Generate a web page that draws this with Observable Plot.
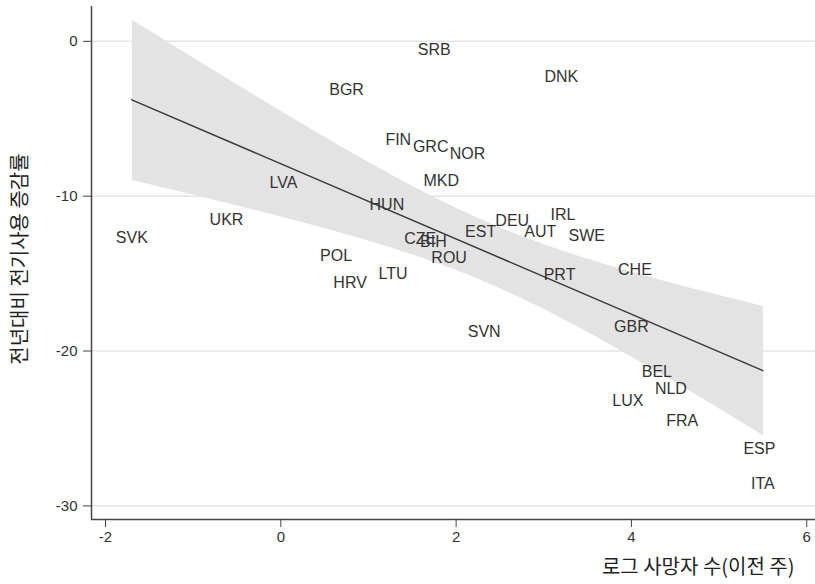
<!DOCTYPE html>
<html>
<head>
<meta charset="utf-8">
<script src="https://cdn.jsdelivr.net/npm/d3@7"></script>
<script src="https://cdn.jsdelivr.net/npm/@observablehq/plot@0.6"></script>
<style>
  html, body { margin: 0; padding: 0; background: #fff; }
  #chart svg { display: block; }
</style>
</head>
<body>
<div id="chart"></div>
<script>
// Country labels and their positions (log deaths previous week, % change in electricity use)
const countries = ["SVK","UKR","LVA","BGR","SRB","DNK","FIN","GRC","NOR","MKD","HUN","CZE","BIH","ROU","POL","HRV","LTU","EST","DEU","AUT","IRL","SWE","PRT","CHE","SVN","GBR","BEL","NLD","LUX","FRA","ESP","ITA"];
const logDeaths = [-1.70,-0.62,0.03,0.75,1.75,3.20,1.34,1.71,2.13,1.83,1.21,1.59,1.74,1.92,0.63,0.79,1.28,2.28,2.64,2.96,3.22,3.49,3.18,4.04,2.32,4.00,4.29,4.45,3.96,4.58,5.46,5.50];
const elecChange = [-12.71,-11.55,-9.16,-3.15,-0.56,-2.31,-6.38,-6.83,-7.28,-9.03,-10.58,-12.75,-12.95,-14.0,-13.87,-15.62,-15.04,-12.33,-11.62,-12.33,-11.23,-12.58,-15.1,-14.78,-18.79,-18.47,-21.37,-22.47,-23.19,-24.54,-26.35,-28.55];

const xTicks = [-2, 0, 2, 4, 6];
const yTicks = [0, -10, -20, -30];
const xDomain = [-2.16, 6.1];
const yDomain = [-30.88, 2.25];
const xTitle = "로그 사망자 수(이전 주)";
const yTitle = "전년대비 전기사용 증감률";

const data = countries.map((c, i) => ({country: c, x: logDeaths[i], y: elecChange[i]}));

const kfont = "'Noto Sans CJK KR', 'Noto Sans', sans-serif";
const lfont = "'Liberation Sans', Arial, Helvetica, sans-serif";

const chart = Plot.plot({
  width: 815,
  height: 584,
  marginLeft: 91,
  marginRight: 0,
  marginTop: 6,
  marginBottom: 65,
  style: {fontFamily: lfont, fontSize: "15px", color: "#333", background: "#fff"},
  x: {domain: xDomain, ticks: xTicks, tickFormat: d => `${d}`, tickSize: 8, tickPadding: 4, label: null},
  y: {domain: yDomain, ticks: yTicks, tickFormat: d => `${d}`, tickSize: 8, tickPadding: 6, label: null},
  marks: [
    Plot.gridY(yTicks, {stroke: "#e4e4e4", strokeOpacity: 1, strokeWidth: 1.5}),
    Plot.linearRegressionY(data, {x: "x", y: "y", stroke: "#3a3a3a", strokeWidth: 1.5, fill: "#e3e3e3", fillOpacity: 1, ci: 0.95}),
    Plot.ruleX([xDomain[0]], {stroke: "#444", strokeWidth: 1.5}),
    Plot.ruleY([yDomain[0]], {stroke: "#444", strokeWidth: 1.5}),
    Plot.axisX({ticks: xTicks, tickFormat: d => `${d}`, tickSize: 8, tickPadding: 4, stroke: "#444", fontSize: 15, label: null}),
    Plot.axisY({ticks: yTicks, tickFormat: d => `${d}`, tickSize: 8, tickPadding: 6, stroke: "#444", fontSize: 15, label: null}),
    Plot.text(data, {x: "x", y: "y", text: "country", fontSize: 16, fill: "#333", fontFamily: lfont}),
    Plot.text([xTitle], {frameAnchor: "bottom-right", dx: -21, dy: 48, textAnchor: "end", lineAnchor: "middle", fontSize: 20, fill: "#222", fontFamily: kfont}),
    Plot.text([yTitle], {frameAnchor: "left", dx: -71, dy: -4, rotate: -90, textAnchor: "middle", lineAnchor: "middle", fontSize: 20, fill: "#222", fontFamily: kfont})
  ]
});
document.getElementById("chart").appendChild(chart);
</script>
</body>
</html>
